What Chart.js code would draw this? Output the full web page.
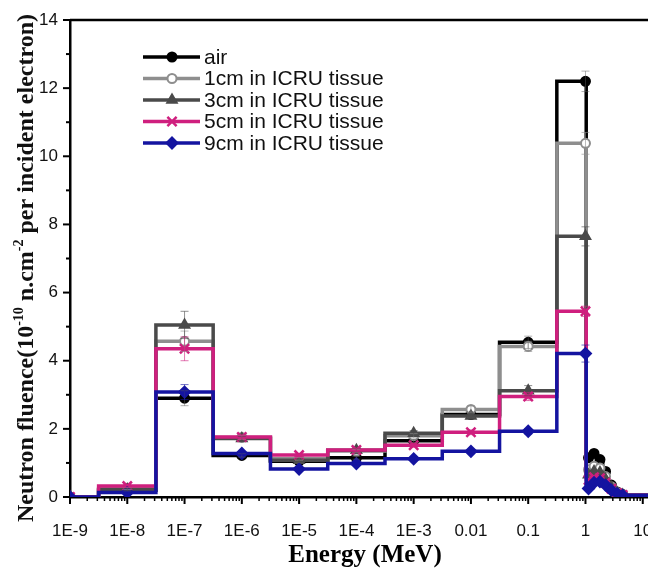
<!DOCTYPE html>
<html>
<head>
<meta charset="utf-8">
<script src="https://cdn.jsdelivr.net/npm/chart.js@4.4.1/dist/chart.umd.min.js"></script>
<style>
    html, body { margin: 0; padding: 0; background: #fff; overflow: hidden; }
    #wrap { width: 700px; height: 568px; }
</style>
</head>
<body>
<div id="wrap"><canvas id="fluenceChart" width="700" height="568"></canvas></div>
<script>
// histogram bins (MeV): edges and the energy where each marker sits
const binEdges = [3.16e-10, 3.16e-9, 3.16e-8, 3.16e-7, 3.16e-6, 3.16e-5, 3.16e-4, 3.16e-3, 0.0316, 0.316,
    1.03, 1.25, 1.6, 2.0, 2.5, 3.2, 4.0, 5.0, 20];
const binCenters = [1e-9, 1e-8, 1e-7, 1e-6, 1e-5, 1e-4, 1e-3, 0.01, 0.1, 1.0,
    1.13, 1.41, 1.79, 2.24, 2.83, 3.58, 4.47, 10];

const seriesNames = ['air', '1cm in ICRU tissue', '3cm in ICRU tissue', '5cm in ICRU tissue', '9cm in ICRU tissue'];
const seriesColors = ['#000000', '#8e8e8e', '#4a4a4a', '#cf1f7e', '#1414a0'];
const seriesMarkers = ['circle', 'circle', 'triangle', 'crossRot', 'rectRot'];

const airValues = [0, 0.2, 2.9, 1.22, 1.05, 1.15, 1.65, 2.42, 4.54, 12.2, 1.15, 1.28, 1.1, 0.75, 0.35, 0.15, 0.07, 0.05];
const cm1Values = [0, 0.25, 4.57, 1.75, 1.12, 1.35, 1.8, 2.57, 4.42, 10.38, 0.8, 0.9, 0.85, 0.6, 0.3, 0.13, 0.06, 0.05];
const cm3Values = [0, 0.22, 5.05, 1.72, 1.08, 1.37, 1.87, 2.38, 3.12, 7.65, 0.65, 0.75, 0.72, 0.52, 0.28, 0.12, 0.06, 0.05];
const cm5Values = [0, 0.32, 4.35, 1.76, 1.23, 1.38, 1.52, 1.9, 2.95, 5.45, 0.5, 0.58, 0.55, 0.42, 0.24, 0.11, 0.06, 0.05];
const cm9Values = [0, 0.13, 3.08, 1.28, 0.82, 0.98, 1.12, 1.34, 1.93, 4.21, 0.25, 0.42, 0.45, 0.35, 0.2, 0.1, 0.05, 0.05];

const airErrors = [0, 0.03, 0.22, 0.05, 0.04, 0.04, 0.05, 0.08, 0.18, 0.3, 0, 0, 0, 0, 0, 0, 0, 0];
const cm1Errors = [0, 0.03, 0.3, 0.06, 0.04, 0.05, 0.06, 0.1, 0.15, 0.32, 0, 0, 0, 0, 0, 0, 0, 0];
const cm3Errors = [0, 0.03, 0.4, 0.06, 0.04, 0.05, 0.08, 0.08, 0.15, 0.28, 0, 0, 0, 0, 0, 0, 0, 0];
const cm5Errors = [0, 0.04, 0.35, 0.06, 0.05, 0.05, 0.06, 0.07, 0.12, 0.15, 0, 0, 0, 0, 0, 0, 0, 0];
const cm9Errors = [0, 0.02, 0.22, 0.05, 0.04, 0.04, 0.04, 0.05, 0.08, 0.25, 0, 0, 0, 0, 0, 0, 0, 0];

const seriesValues = [airValues, cm1Values, cm3Values, cm5Values, cm9Values];
const seriesErrors = [airErrors, cm1Errors, cm3Errors, cm5Errors, cm9Errors];

const xTickValues = [1e-9, 1e-8, 1e-7, 1e-6, 1e-5, 1e-4, 1e-3, 0.01, 0.1, 1, 10];
const xTickLabels = ['1E-9', '1E-8', '1E-7', '1E-6', '1E-5', '1E-4', '1E-3', '0.01', '0.1', '1', '10'];
const yTickValues = [0, 2, 4, 6, 8, 10, 12, 14];

// edge, center, edge, center ... so a stepped line draws the histogram
function stepPoints(values) {
    const pts = [];
    values.forEach((v, i) => {
        pts.push({ x: binEdges[i], y: v });
        pts.push({ x: binCenters[i], y: v });
    });
    pts.push({ x: binEdges[values.length], y: values[values.length - 1] });
    return pts;
}

function isMarker(idx) {
    return idx % 2 === 1 && (idx - 1) / 2 < binCenters.length - 1;
}

const markerSizes = { circle: 4.5, triangle: 5.5, crossRot: 6.5, rectRot: 5.5 };

const datasets = seriesNames.map((name, s) => ({
    label: name,
    data: stepPoints(seriesValues[s]),
    borderColor: seriesColors[s],
    borderWidth: 3.5,
    stepped: true,
    fill: false,
    order: 5 - s,
    pointStyle: seriesMarkers[s],
    pointRadius: ctx => isMarker(ctx.dataIndex) ? markerSizes[seriesMarkers[s]] : 0,
    pointHoverRadius: 0,
    pointBackgroundColor: s === 1 ? '#ffffff' : seriesColors[s],
    pointBorderColor: seriesColors[s],
    pointBorderWidth: s === 3 ? 2.5 : 2
}));

function drawMarker(ctx, style, x, y, color, fill) {
    ctx.save();
    ctx.strokeStyle = color;
    ctx.fillStyle = fill;
    ctx.lineWidth = style === 'crossRot' ? 2.5 : 2;
    if (Chart.helpers && Chart.helpers.drawPoint) {
        Chart.helpers.drawPoint(ctx, { pointStyle: style, radius: markerSizes[style], borderWidth: ctx.lineWidth }, x, y);
    } else {
        ctx.beginPath();
        ctx.arc(x, y, markerSizes[style], 0, Math.PI * 2);
        ctx.fill();
        ctx.stroke();
    }
    ctx.restore();
}

const decorPlugin = {
    id: 'decor',
    afterDatasetsDraw(chart) {
        const ctx = chart.ctx;
        const xs = chart.scales.x, ys = chart.scales.y;
        // error bars
        ctx.save();
        ctx.lineWidth = 1;
        seriesErrors.forEach((errs, s) => {
            ctx.strokeStyle = s === 0 ? 'rgba(90,90,90,0.8)' : seriesColors[s];
            ctx.globalAlpha = 0.6;
            errs.forEach((e, i) => {
                if (!e) return;
                const px = xs.getPixelForValue(binCenters[i]);
                const top = ys.getPixelForValue(seriesValues[s][i] + e);
                const bot = ys.getPixelForValue(seriesValues[s][i] - e);
                ctx.beginPath();
                ctx.moveTo(px, top); ctx.lineTo(px, bot);
                ctx.moveTo(px - 4, top); ctx.lineTo(px + 4, top);
                ctx.moveTo(px - 4, bot); ctx.lineTo(px + 4, bot);
                ctx.stroke();
            });
        });
        ctx.restore();
    },
    afterDraw(chart) {
        const ctx = chart.ctx;
        const area = chart.chartArea;
        const xs = chart.scales.x, ys = chart.scales.y;
        ctx.save();
        ctx.strokeStyle = '#000';
        // top frame
        ctx.lineWidth = 2.5;
        ctx.beginPath();
        ctx.moveTo(area.left, area.top);
        ctx.lineTo(area.right + 5, area.top);
        ctx.stroke();
        // x ticks, major and minor
        for (let k = -9; k <= 1; k++) {
            for (let m = 1; m <= 9; m++) {
                const v = m * Math.pow(10, k);
                if (v > xs.max) break;
                const px = xs.getPixelForValue(v);
                ctx.lineWidth = m === 1 ? 2 : 1.5;
                ctx.beginPath();
                ctx.moveTo(px, area.bottom);
                ctx.lineTo(px, area.bottom + (m === 1 ? 7 : 4));
                ctx.stroke();
            }
        }
        // y ticks
        for (let v = 0; v <= 14; v++) {
            const py = ys.getPixelForValue(v);
            const major = yTickValues.includes(v);
            ctx.lineWidth = 2;
            ctx.beginPath();
            ctx.moveTo(area.left, py);
            ctx.lineTo(area.left - (major ? 7 : 4), py);
            ctx.stroke();
        }
        ctx.restore();

        // legend
        ctx.save();
        const rowY = [57, 78.5, 100, 121.5, 143];
        seriesNames.forEach((name, s) => {
            const y = rowY[s];
            ctx.strokeStyle = seriesColors[s];
            ctx.lineWidth = 3.5;
            ctx.beginPath();
            ctx.moveTo(143, y);
            ctx.lineTo(200, y);
            ctx.stroke();
            drawMarker(ctx, seriesMarkers[s], 172, y, seriesColors[s], s === 1 ? '#ffffff' : seriesColors[s]);
            ctx.fillStyle = '#111';
            ctx.font = '21px "Liberation Sans", Arial, sans-serif';
            ctx.textBaseline = 'middle';
            ctx.textAlign = 'left';
            ctx.fillText(name, 204, y + 1);
        });
        ctx.restore();

        // y axis title with superscripts
        ctx.save();
        ctx.translate(33, 268);
        ctx.rotate(-Math.PI / 2);
        ctx.fillStyle = '#111';
        ctx.textBaseline = 'alphabetic';
        const mainFont = 'bold 24px "Liberation Serif", "Times New Roman", serif';
        const supFont = 'bold 14px "Liberation Serif", "Times New Roman", serif';
        const parts = [
            { t: 'Neutron fluence(10', sup: false },
            { t: '-10', sup: true },
            { t: ' n.cm', sup: false },
            { t: '-2', sup: true },
            { t: ' per incident electron)', sup: false }
        ];
        let total = 0;
        parts.forEach(p => { ctx.font = p.sup ? supFont : mainFont; p.w = ctx.measureText(p.t).width; total += p.w; });
        let cx = -total / 2;
        parts.forEach(p => {
            ctx.font = p.sup ? supFont : mainFont;
            ctx.fillText(p.t, cx, p.sup ? -10 : 0);
            cx += p.w;
        });
        ctx.restore();
    }
};

new Chart(document.getElementById('fluenceChart').getContext('2d'), {
    type: 'line',
    data: { datasets: datasets },
    options: {
        responsive: false,
        animation: false,
        layout: { padding: { top: 20, right: 40, left: 0, bottom: 0 } },
        plugins: {
            legend: { display: false },
            tooltip: { enabled: false }
        },
        scales: {
            x: {
                type: 'logarithmic',
                position: 'bottom',
                min: 1e-9,
                max: 20,
                afterBuildTicks: scale => { scale.ticks = xTickValues.map(v => ({ value: v })); },
                afterFit: scale => { scale.height = 71; },
                grid: { display: true, drawOnChartArea: false, color: 'rgba(0,0,0,0)', tickLength: 8 },
                border: { display: true, color: '#000', width: 2.5 },
                ticks: {
                    autoSkip: false,
                    maxRotation: 0,
                    padding: 16,
                    color: '#111',
                    font: { family: 'Liberation Sans', size: 17 },
                    callback: (value, index) => xTickLabels[index]
                },
                title: {
                    display: true,
                    text: 'Energy (MeV)',
                    color: '#000',
                    font: { family: 'Liberation Serif', weight: 'bold', size: 25, lineHeight: 1.0 },
                    padding: { top: 0, bottom: 0 }
                }
            },
            y: {
                min: 0,
                max: 14,
                afterBuildTicks: scale => { scale.ticks = yTickValues.map(v => ({ value: v })); },
                afterFit: scale => { scale.width = 70; },
                grid: { display: true, drawOnChartArea: false, color: 'rgba(0,0,0,0)', tickLength: 7 },
                border: { display: true, color: '#000', width: 2.5 },
                ticks: {
                    padding: 5,
                    color: '#111',
                    font: { family: 'Liberation Sans', size: 17 }
                }
            }
        }
    },
    plugins: [decorPlugin]
});
</script>
</body>
</html>
